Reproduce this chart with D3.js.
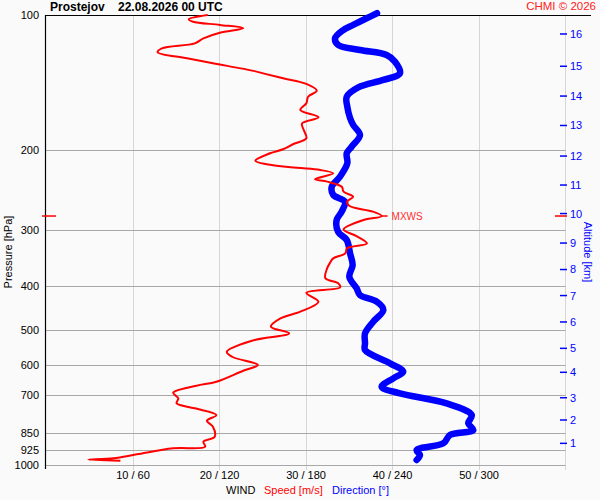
<!DOCTYPE html>
<html>
<head>
<meta charset="utf-8">
<script src="https://cdn.jsdelivr.net/npm/d3@7"></script>
<style>
  html, body { margin: 0; padding: 0; background: #fafafa; }
  svg { display: block; font-family: "Liberation Sans", Arial, sans-serif; }
</style>
</head>
<body>
<svg id="chart" width="600" height="500"></svg>
<script>
// ---- data ----
const title = "Prostejov    22.08.2026 00 UTC";
const credit = "CHMI \u00A9 2026";

const pressureTicks = [100, 200, 300, 400, 500, 600, 700, 850, 925, 1000];
const speedTicks = [10, 20, 30, 40, 50];
const speedTickLabels = ["10 / 60", "20 / 120", "30 / 180", "40 / 240", "50 / 300"];
const altKm = [1, 2, 3, 4, 5, 6, 7, 8, 9, 10, 11, 12, 13, 14, 15, 16];
const altP = [895.1, 794.3, 708.8, 622.3, 550.5, 481.0, 420.2, 367.8, 321.2, 276.2,
              238.7, 205.8, 176.0, 151.4, 130.0, 110.2];

const speedP = [100, 102.2, 103.5, 105.2, 107.0, 109.5, 112.7, 115.6, 118.6, 121.0,
  124.8, 128.0, 133.1, 134.8, 138.2, 142.3, 147.3, 151.9, 157.1, 162.6,
  168.8, 174.1, 180.2, 187.9, 193.5, 198.8, 202.9, 210.8, 214.7, 218.5,
  221.0, 224.8, 231.8, 234.6, 240.8, 247.0, 253.4, 260.0, 265.8, 273.5,
  279.7, 285.5, 299.7, 309.9, 321.7, 330.0, 338.6, 347.4, 356.4, 365.6,
  384.8, 394.8, 403.0, 414.2, 433.7, 456.4, 472.1, 492.8, 509.8, 529.5,
  560.2, 574.7, 599.6, 617.3, 653.1, 666.6, 690.9, 711.0, 729.4, 748.3,
  774.4, 797.3, 822.2, 865.3, 887.7, 910.7, 918.2, 946.8, 966.4, 972.3,
  978.3];
const speed = [18.7, 16.5, 17.0, 20.1, 22.8, 20.1, 18.2, 17.2, 13.4, 12.9,
  16.3, 19.3, 24.0, 25.1, 27.4, 30.1, 31.3, 30.3, 30.1, 29.4,
  31.5, 29.6, 29.8, 30.1, 28.6, 27.4, 25.9, 24.2, 25.5, 29.0,
  31.7, 33.2, 31.1, 32.5, 34.2, 34.4, 35.5, 34.8, 35.1, 37.8,
  38.8, 36.7, 34.4, 35.9, 37.1, 34.8, 34.6, 33.2, 32.8, 32.5,
  32.3, 33.8, 34.0, 30.1, 31.5, 29.4, 27.1, 26.0, 28.1, 23.8,
  20.9, 21.5, 24.5, 22.8, 19.7, 17.4, 14.7, 15.3, 15.1, 17.2,
  19.7, 18.6, 19.3, 19.5, 18.2, 18.4, 14.7, 10.5, 7.8, 4.9,
  8.6];

const dirP = [99.1, 101.7, 105.2, 108.0, 112.7, 116.6, 119.6, 122.7, 127.0, 134.8,
  139.4, 144.8, 151.9, 159.9, 169.4, 175.6, 184.8, 196.2, 202.9, 213.6,
  228.8, 240.8, 251.2, 260.0, 273.5, 285.5, 303.6, 316.2, 338.6, 359.5,
  381.6, 405.1, 419.2, 433.7, 452.4, 480.3, 509.8, 536.6, 555.3, 594.4,
  620.5, 641.8, 670.0, 693.0, 729.4, 774.4, 808.0, 836.2, 857.9, 895.1,
  926.3, 950.4, 974.8];
const direction = [229.6, 222.4, 213.1, 206.2, 200.5, 202.7, 217.8, 236.3, 242.1, 245.5,
  234.0, 216.6, 208.6, 209.0, 210.9, 213.1, 217.8, 212.0, 208.6, 209.0,
  203.9, 198.2, 199.3, 207.4, 205.1, 201.6, 202.7, 208.6, 210.9, 212.7,
  210.4, 215.5, 217.8, 229.4, 234.0, 227.0, 221.3, 221.3, 221.3, 238.6,
  247.8, 240.9, 232.8, 245.5, 277.9, 295.3, 292.9, 296.4, 280.2, 275.6,
  257.1, 259.4, 257.1];

// ---- scales ----
const svg = d3.select("#chart");
const plotL = 45.5, plotR = 565.5, plotT = 15, plotB = 465;
const x = d3.scaleLinear().domain([0, 60]).range([46, 565]);
const xd = d3.scaleLinear().domain([0, 360]).range([46, 565]);
const y = d3.scaleLog().domain([100, 1000]).range([plotT, plotB]);

// vertical grid
svg.append("g").selectAll("line").data(speedTicks.concat([60])).join("line")
  .attr("x1", d => Math.round(x(d)) + 0.5).attr("x2", d => Math.round(x(d)) + 0.5)
  .attr("y1", plotT).attr("y2", 470)
  .attr("stroke", "#d6d6d6").attr("stroke-width", 1);

// horizontal grid
svg.append("g").selectAll("line").data(pressureTicks.slice(1)).join("line")
  .attr("x1", plotL).attr("x2", plotR)
  .attr("y1", d => Math.round(y(d)) + 0.5).attr("y2", d => Math.round(y(d)) + 0.5)
  .attr("stroke", "#a8a8a8").attr("stroke-width", 1);

// frame lines
svg.append("line").attr("x1", 45).attr("x2", 591).attr("y1", 15.5).attr("y2", 15.5)
  .attr("stroke", "#000").attr("stroke-width", 1.2);
svg.append("line").attr("x1", 45.5).attr("x2", 45.5).attr("y1", 15).attr("y2", 469)
  .attr("stroke", "#000").attr("stroke-width", 1.2);

// left axis labels
const yAxis = d3.axisLeft(y).tickValues(pressureTicks).tickFormat(d3.format("d"))
  .tickSize(0).tickPadding(6);
const gy = svg.append("g").attr("transform", "translate(45,0)").call(yAxis);
gy.select(".domain").remove();
gy.selectAll("text").attr("font-size", 11).attr("fill", "#000")
  .attr("font-family", "Liberation Sans, Arial, sans-serif");

// bottom axis labels
const xAxis = d3.axisBottom(x).tickValues(speedTicks)
  .tickFormat((d, i) => speedTickLabels[i]).tickSize(0).tickPadding(0);
const gx = svg.append("g").attr("transform", "translate(0,471)").call(xAxis);
gx.select(".domain").remove();
gx.selectAll("text").attr("font-size", 11).attr("fill", "#000")
  .attr("font-family", "Liberation Sans, Arial, sans-serif");

// right altitude axis
const gr = svg.append("g");
gr.selectAll("line").data(altP).join("line")
  .attr("x1", 560).attr("x2", 567)
  .attr("y1", d => y(d)).attr("y2", d => y(d))
  .attr("stroke", "#0000ff").attr("stroke-width", 1.5);
gr.selectAll("text").data(altKm).join("text")
  .attr("x", 570).attr("y", (d, i) => y(altP[i]))
  .attr("dy", "0.36em").attr("font-size", 11).attr("fill", "#0000ff")
  .text(d => d);

// wind lines
const pts = (ps, vs) => ps.map((p, i) => [p, vs[i]]);
const dirLine = d3.line().x(d => xd(d[1])).y(d => y(d[0])).curve(d3.curveCatmullRom.alpha(0.5));
const spdLine = d3.line().x(d => x(d[1])).y(d => y(d[0])).curve(d3.curveCatmullRom.alpha(0.5));

svg.append("path").attr("d", dirLine(pts(dirP, direction)))
  .attr("fill", "none").attr("stroke", "#0000ff").attr("stroke-width", 6.5)
  .attr("stroke-linejoin", "round").attr("stroke-linecap", "round");
svg.append("path").attr("d", spdLine(pts(speedP, speed)))
  .attr("fill", "none").attr("stroke", "#ff0000").attr("stroke-width", 2)
  .attr("stroke-linejoin", "round");

// MXWS marker
const iMax = d3.maxIndex(speed);
const yMax = y(speedP[iMax]);
const xMax = x(speed[iMax]);
svg.append("line").attr("x1", xMax).attr("x2", xMax + 6).attr("y1", yMax).attr("y2", yMax)
  .attr("stroke", "#ff0000").attr("stroke-width", 1.5);
svg.append("text").attr("x", xMax + 10).attr("y", yMax).attr("dy", "0.36em")
  .attr("font-size", 10).attr("fill", "#ff3030").text("MXWS");
svg.append("line").attr("x1", 42).attr("x2", 56).attr("y1", yMax).attr("y2", yMax)
  .attr("stroke", "#ff0000").attr("stroke-width", 1.5);
svg.append("line").attr("x1", 555).attr("x2", 567).attr("y1", yMax).attr("y2", yMax)
  .attr("stroke", "#ff0000").attr("stroke-width", 1.5);

// titles
svg.append("text").attr("x", 50).attr("y", 11).attr("font-size", 12)
  .attr("font-weight", "bold").attr("fill", "#000")
  .style("white-space", "pre").text(title);
svg.append("text").attr("x", 596).attr("y", 10).attr("text-anchor", "end")
  .attr("font-size", 11.5).attr("fill", "#ff2020").text(credit);

svg.append("text").attr("transform", "translate(12,252) rotate(-90)")
  .attr("text-anchor", "middle").attr("font-size", 11).attr("fill", "#000")
  .text("Pressure [hPa]");
svg.append("text").attr("transform", "translate(584,252) rotate(90)")
  .attr("text-anchor", "middle").attr("font-size", 11).attr("fill", "#0000ff")
  .text("Altitude [km]");

const legend = svg.append("text").attr("y", 494).attr("font-size", 11);
legend.append("tspan").attr("x", 226).attr("fill", "#000").text("WIND");
legend.append("tspan").attr("x", 264).attr("fill", "#ff0000").text("Speed [m/s]");
legend.append("tspan").attr("x", 332).attr("fill", "#0000ff").text("Direction [\u00B0]");
</script>
</body>
</html>
